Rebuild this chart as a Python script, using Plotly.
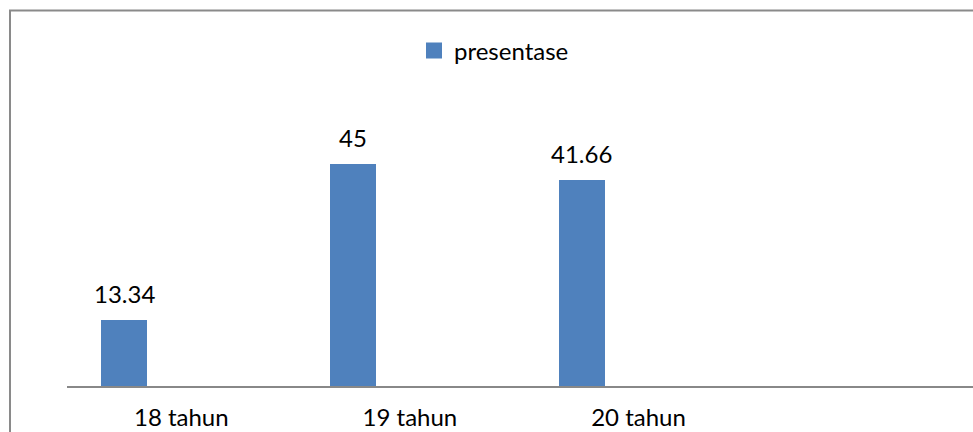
import plotly.graph_objects as go

# Age groups and their share (%)
categories = ["18 tahun", "19 tahun", "20 tahun"]
presentase = [13.34, 45, 41.66]
series_name = "presentase"

BAR_COLOR = "#4F81BD"
AXIS_GRAY = "#888888"
FONT = "Lato, 'Noto Sans', sans-serif"
FONT_SIZE = 24

W, H = 973, 432
ML, MR, MT, MB = 67, 0, 90, 46

n_slots = 4  # category axis reserves one empty slot on the right
slot_pos = list(range(len(categories)))
bar_offset = -0.249   # bars sit left of each category centre
bar_width = 0.201

fig = go.Figure()
fig.add_trace(go.Bar(
    x=[p + bar_offset for p in slot_pos],
    y=presentase,
    width=bar_width,
    name=series_name,
    marker=dict(color=BAR_COLOR, line=dict(width=0)),
    showlegend=False,
    legendgroup="s",
))
# legend entry with a larger square key
fig.add_trace(go.Scatter(
    x=[None], y=[None], mode="markers", name=series_name,
    marker=dict(symbol="square", size=16, color=BAR_COLOR, line=dict(width=0)),
    legendgroup="s", showlegend=True, hoverinfo="skip",
))

# value labels above each bar
for p, v in zip(slot_pos, presentase):
    fig.add_annotation(
        x=p + bar_offset, y=v, xref="x", yref="y",
        text=f"{v:g}", showarrow=False,
        yanchor="middle", yshift=27,
        font=dict(family=FONT, size=FONT_SIZE, color="#000000"),
    )

plot_w = W - ML - MR
right_edge = n_slots - 0.5 - (n_slots * 228.6 - plot_w) / 228.6

fig.update_layout(
    width=W, height=H,
    margin=dict(l=ML, r=MR, t=MT, b=MB, pad=0, autoexpand=False),
    paper_bgcolor="white", plot_bgcolor="white",
    font=dict(family=FONT, size=FONT_SIZE, color="#000000"),
    bargap=0,
    legend=dict(
        orientation="h", x=0.383, xanchor="left", y=1.132, yanchor="middle",
        font=dict(family=FONT, size=FONT_SIZE, color="#000000"),
        bgcolor="rgba(0,0,0,0)", borderwidth=0,
    ),
    xaxis=dict(
        range=[-0.5, right_edge],
        tickvals=slot_pos, ticktext=categories,
        showgrid=False, zeroline=False,
        showline=True, linecolor=AXIS_GRAY, linewidth=1.5,
        ticks="", ticklabelstandoff=9, automargin=False,
        tickfont=dict(family=FONT, size=FONT_SIZE, color="#000000"),
        fixedrange=True,
    ),
    yaxis=dict(
        range=[0, 60], visible=False, showgrid=False, zeroline=False,
        automargin=False, fixedrange=True,
    ),
    shapes=[dict(
        type="rect", xref="paper", yref="paper",
        x0=(10 - ML) / plot_w, x1=1.05,
        y0=-0.3, y1=(H - MB - 10.5) / (H - MT - MB),
        line=dict(color="#8a8a8a", width=2),
        fillcolor="rgba(0,0,0,0)", layer="below",
    )],
)

fig.write_html("out.html")
